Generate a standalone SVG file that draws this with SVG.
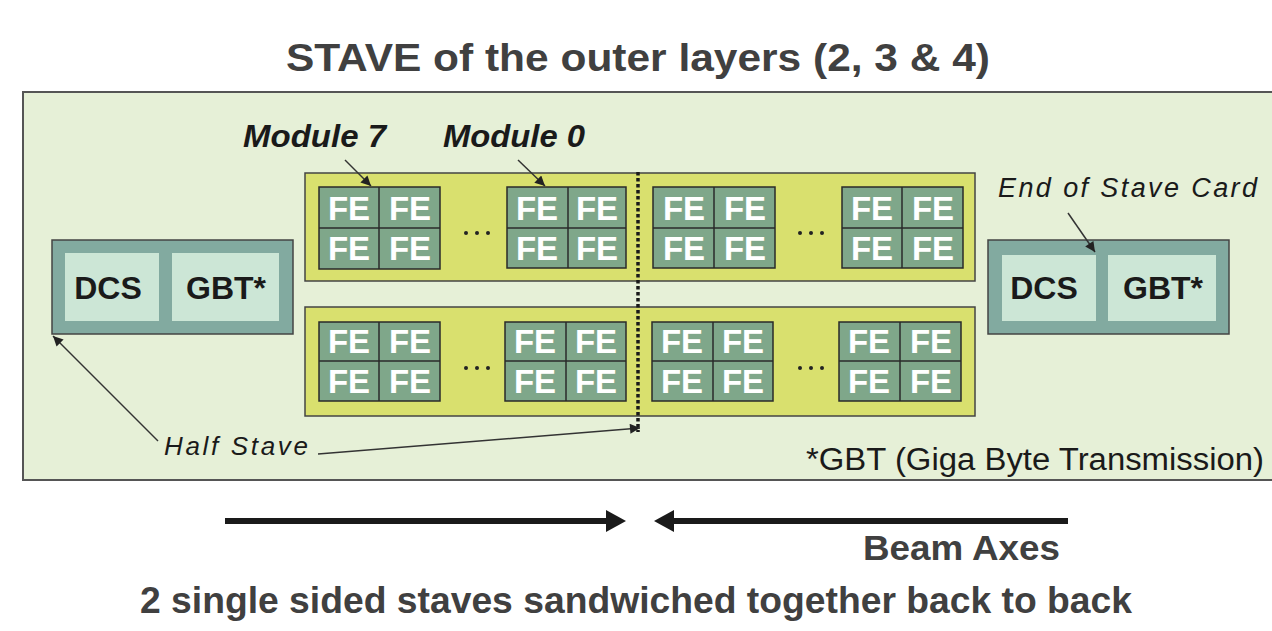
<svg xmlns="http://www.w3.org/2000/svg" width="1272" height="631" viewBox="0 0 1272 631">
<defs>
<style>
.title{font-family:"Liberation Sans",Arial,sans-serif;font-weight:bold;fill:#404040}
.lbl{font-family:"Liberation Sans",Arial,sans-serif;font-style:italic;fill:#1a1a1a}
.strip{fill:#d9e06e;stroke:#444;stroke-width:1.5}
.mod{fill:#7fa78a;stroke:#2a2a2a;stroke-width:1.5}
.div{stroke:#2a2a2a;stroke-width:1.5}
.fe{font-family:"Liberation Sans",Arial,sans-serif;font-weight:bold;font-size:33px;fill:#ffffff;text-anchor:middle}
.card{fill:#82aaa0;stroke:#444;stroke-width:1.5}
.cin{fill:#cce6d6}
.ct{font-family:"Liberation Sans",Arial,sans-serif;font-weight:bold;font-size:32px;fill:#1a1a1a;text-anchor:middle}
.thin{stroke:#333;stroke-width:1.5;fill:none}
.dot{fill:#222}
</style>
<marker id="ah" viewBox="0 0 10 10" refX="10" refY="5" markerWidth="12" markerHeight="10" markerUnits="userSpaceOnUse" orient="auto">
<path d="M0,0 L10,5 L0,10 z" fill="#222"/>
</marker>
</defs>
<rect x="0" y="0" width="1272" height="631" fill="#ffffff"/>
<text class="title" x="286" y="71" font-size="39" textLength="704" lengthAdjust="spacingAndGlyphs">STAVE of the outer layers (2, 3 &amp; 4)</text>
<rect id="stave" x="23" y="92" width="1262" height="388" fill="#e6f0d7" stroke="#555" stroke-width="2"/>

<g id="upper-half-stave">
<rect class="strip" x="305" y="173" width="670" height="108"/>
</g>
<g id="lower-half-stave">
<rect class="strip" x="305" y="307" width="670" height="109"/>
</g>

<g id="module7">
<rect class="mod" x="319" y="187" width="121" height="82"/>
<line class="div" x1="379" y1="187" x2="379" y2="269"/><line class="div" x1="319" y1="228" x2="440" y2="228"/>
<text class="fe" x="349" y="220">FE</text><text class="fe" x="410" y="220">FE</text>
<text class="fe" x="349" y="260">FE</text><text class="fe" x="410" y="260">FE</text>
</g>
<g id="module0">
<rect class="mod" x="507" y="187" width="119" height="81"/>
<line class="div" x1="568" y1="187" x2="568" y2="268"/><line class="div" x1="507" y1="228" x2="626" y2="228"/>
<text class="fe" x="537" y="220">FE</text><text class="fe" x="597" y="220">FE</text>
<text class="fe" x="537" y="260">FE</text><text class="fe" x="597" y="260">FE</text>
</g>
<g id="module-u3">
<rect class="mod" x="653" y="187" width="122" height="81"/>
<line class="div" x1="714" y1="187" x2="714" y2="268"/><line class="div" x1="653" y1="228" x2="775" y2="228"/>
<text class="fe" x="684" y="220">FE</text><text class="fe" x="745" y="220">FE</text>
<text class="fe" x="684" y="260">FE</text><text class="fe" x="745" y="260">FE</text>
</g>
<g id="module-u4">
<rect class="mod" x="842" y="187" width="121" height="81"/>
<line class="div" x1="902" y1="187" x2="902" y2="268"/><line class="div" x1="842" y1="228" x2="963" y2="228"/>
<text class="fe" x="872" y="220">FE</text><text class="fe" x="933" y="220">FE</text>
<text class="fe" x="872" y="260">FE</text><text class="fe" x="933" y="260">FE</text>
</g>
<g id="module-l1">
<rect class="mod" x="319" y="322" width="121" height="79"/>
<line class="div" x1="379" y1="322" x2="379" y2="401"/><line class="div" x1="319" y1="361" x2="440" y2="361"/>
<text class="fe" x="349" y="353">FE</text><text class="fe" x="410" y="353">FE</text>
<text class="fe" x="349" y="393">FE</text><text class="fe" x="410" y="393">FE</text>
</g>
<g id="module-l2">
<rect class="mod" x="505" y="322" width="121" height="79"/>
<line class="div" x1="566" y1="322" x2="566" y2="401"/><line class="div" x1="505" y1="361" x2="626" y2="361"/>
<text class="fe" x="535" y="353">FE</text><text class="fe" x="596" y="353">FE</text>
<text class="fe" x="535" y="393">FE</text><text class="fe" x="596" y="393">FE</text>
</g>
<g id="module-l3">
<rect class="mod" x="652" y="322" width="121" height="79"/>
<line class="div" x1="713" y1="322" x2="713" y2="401"/><line class="div" x1="652" y1="361" x2="773" y2="361"/>
<text class="fe" x="682" y="353">FE</text><text class="fe" x="743" y="353">FE</text>
<text class="fe" x="682" y="393">FE</text><text class="fe" x="743" y="393">FE</text>
</g>
<g id="module-l4">
<rect class="mod" x="839" y="322" width="122" height="79"/>
<line class="div" x1="900" y1="322" x2="900" y2="401"/><line class="div" x1="839" y1="361" x2="961" y2="361"/>
<text class="fe" x="869" y="353">FE</text><text class="fe" x="931" y="353">FE</text>
<text class="fe" x="869" y="393">FE</text><text class="fe" x="931" y="393">FE</text>
</g>

<g id="ellipses">
<circle class="dot" cx="466" cy="233" r="2"/><circle class="dot" cx="477" cy="233" r="2"/><circle class="dot" cx="488" cy="233" r="2"/>
<circle class="dot" cx="800" cy="233" r="2"/><circle class="dot" cx="811" cy="233" r="2"/><circle class="dot" cx="822" cy="233" r="2"/>
<circle class="dot" cx="466" cy="368" r="2"/><circle class="dot" cx="477" cy="368" r="2"/><circle class="dot" cx="488" cy="368" r="2"/>
<circle class="dot" cx="800" cy="368" r="2"/><circle class="dot" cx="811" cy="368" r="2"/><circle class="dot" cx="822" cy="368" r="2"/>
</g>

<line x1="638" y1="172" x2="638" y2="432" stroke="#1a1a1a" stroke-width="3.5" stroke-dasharray="3.5,2.5"/>

<g id="left-card">
<rect class="card" x="52" y="240" width="241" height="94"/>
<rect class="cin" x="65" y="253" width="94" height="68"/>
<rect class="cin" x="172" y="253" width="107" height="68"/>
<text class="ct" x="108" y="299">DCS</text>
<text class="ct" x="226" y="299">GBT*</text>
</g>
<g id="right-card">
<rect class="card" x="988" y="240" width="241" height="94"/>
<rect class="cin" x="1002" y="255" width="94" height="66"/>
<rect class="cin" x="1108" y="255" width="108" height="66"/>
<text class="ct" x="1044" y="299">DCS</text>
<text class="ct" x="1163" y="299">GBT*</text>
</g>

<g id="labels">
<text class="lbl" x="243" y="147" font-size="32" font-weight="bold" textLength="143" lengthAdjust="spacingAndGlyphs">Module 7</text>
<text class="lbl" x="443" y="147" font-size="32" font-weight="bold" textLength="142" lengthAdjust="spacingAndGlyphs">Module 0</text>
<text class="lbl" x="998" y="197" font-size="27" textLength="259">End of Stave Card</text>
<text class="lbl" x="164" y="455" font-size="26" textLength="144">Half Stave</text>
<text x="806" y="470" font-family="'Liberation Sans',Arial,sans-serif" font-size="31" fill="#1a1a1a" textLength="458" lengthAdjust="spacingAndGlyphs">*GBT (Giga Byte Transmission)</text>
</g>

<g id="connectors">
<line class="thin" x1="345" y1="160" x2="371" y2="186" marker-end="url(#ah)"/>
<line class="thin" x1="518" y1="160" x2="545" y2="186" marker-end="url(#ah)"/>
<line class="thin" x1="1068" y1="213" x2="1095" y2="252" marker-end="url(#ah)"/>
<line class="thin" x1="158" y1="441" x2="53" y2="336" marker-end="url(#ah)"/>
<line class="thin" x1="318" y1="454" x2="640" y2="428" marker-end="url(#ah)"/>
</g>

<g id="beam-axes">
<line x1="225" y1="521" x2="610" y2="521" stroke="#1a1a1a" stroke-width="6"/>
<polygon points="606,510 626,521 606,532" fill="#1a1a1a"/>
<line x1="670" y1="521" x2="1068" y2="521" stroke="#1a1a1a" stroke-width="6"/>
<polygon points="674,510 654,521 674,532" fill="#1a1a1a"/>
<text class="title" x="863" y="560" font-size="35" textLength="197" lengthAdjust="spacingAndGlyphs">Beam Axes</text>
</g>
<text class="title" x="140" y="613" font-size="36" textLength="992" lengthAdjust="spacingAndGlyphs">2 single sided staves sandwiched together back to back</text>
</svg>
